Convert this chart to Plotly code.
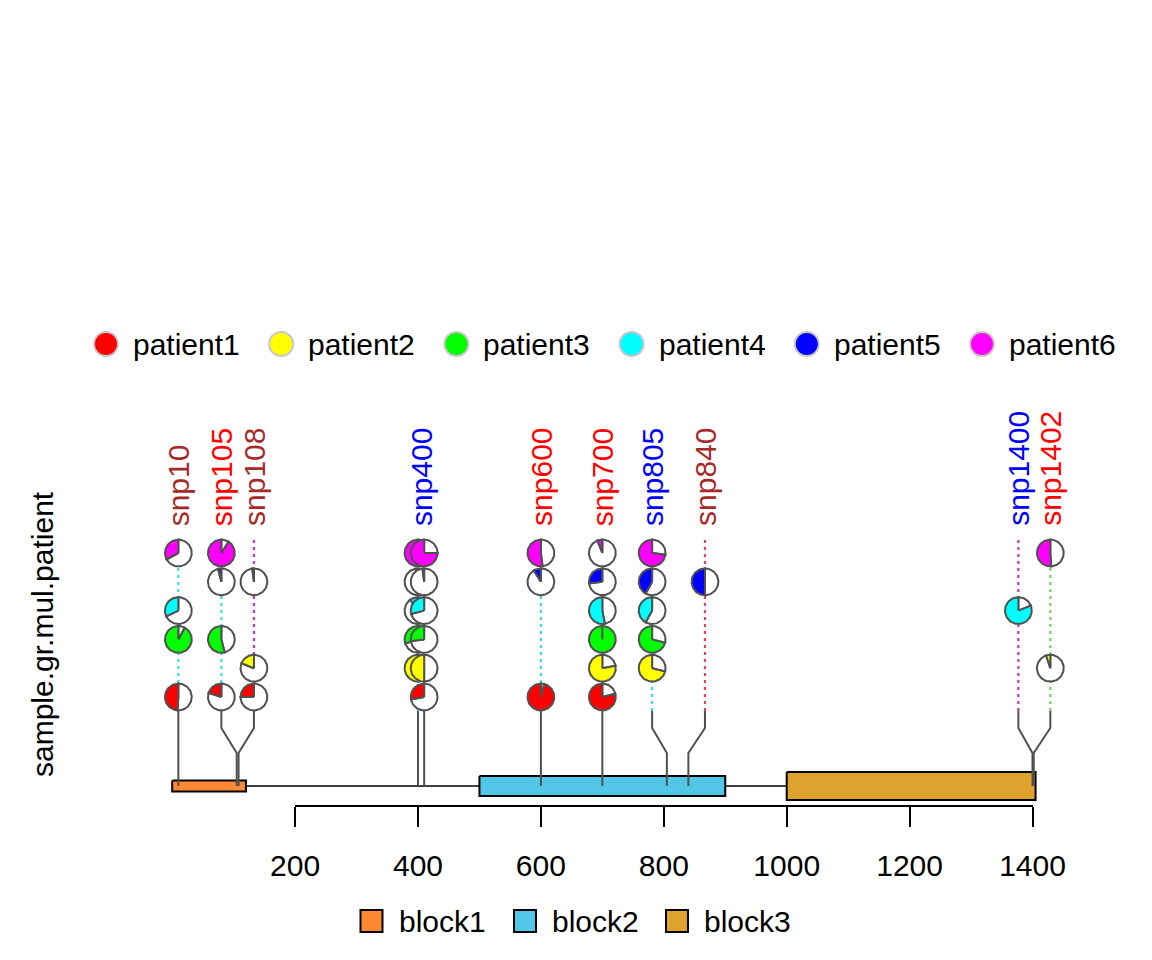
import math
import plotly.graph_objects as go

# ---------------- data ----------------
patients = ["patient1", "patient2", "patient3", "patient4", "patient5", "patient6"]
patient_colors = ["#FF0000", "#FFFF00", "#00FF00", "#00FFFF", "#0000FF", "#FF00FF"]

snp_names = ["snp10", "snp105", "snp108", "snp400", "snp400", "snp600",
             "snp700", "snp805", "snp840", "snp1400", "snp1402"]
snp_pos = [10, 105, 108, 400, 410, 600, 700, 805, 840, 1400, 1402]
# positions where trackViewer re-drew the lollipops after avoiding overlaps
snp_shown = [10, 80, 133, 400, 410, 600, 700, 781, 867, 1377, 1429]
snp_label_shown = [True, True, True, True, False, True, True, True, True, True, True]
snp_label_colors = ["#A52A2A", "#FF0000", "#A52A2A", "#0000FF", "#0000FF", "#FF0000",
                    "#FF0000", "#0000FF", "#A52A2A", "#0000FF", "#FF0000"]
snp_line_colors = ["#33DDEE", "#33DDEE", "#CC33CC", "#33DDEE", "#33DDEE", "#33DDEE",
                   "#E04455", "#33DDEE", "#E04455", "#CC33CC", "#66DD55"]

# pie scores for each patient at each snp (0 = no pie)
score_patient1 = [0.49, 0.20, 0.25, 0.00, 0.28, 0.96, 0.79, 0.00, 0.00, 0.00, 0.00]
score_patient2 = [0.00, 0.00, 0.19, 0.55, 0.50, 0.00, 0.78, 0.71, 0.00, 0.00, 0.05]
score_patient3 = [0.92, 0.54, 0.00, 0.30, 0.27, 0.00, 1.00, 0.71, 0.00, 0.00, 0.00]
score_patient4 = [0.32, 0.00, 0.00, 0.10, 0.29, 0.00, 0.53, 0.42, 0.00, 0.81, 0.00]
score_patient5 = [0.00, 0.04, 0.02, 0.03, 0.02, 0.09, 0.27, 0.42, 0.50, 0.00, 0.00]
score_patient6 = [0.33, 0.91, 0.00, 0.80, 0.75, 0.52, 0.06, 0.73, 0.00, 0.00, 0.51]
scores = [score_patient1, score_patient2, score_patient3,
          score_patient4, score_patient5, score_patient6]

block_names = ["block1", "block2", "block3"]
block_start = [1, 501, 1001]
block_end = [120, 900, 1405]
block_fill = ["#FF8833", "#51C6E6", "#DFA32D"]
block_height = [0.02, 0.036, 0.05]

tick_vals = [200, 400, 600, 800, 1000, 1200, 1400]

# ---------------- layout constants (pixels) ----------------
W, H = 1152, 960
PX0 = 172.2          # pixel of coordinate 0
K = 0.6145           # pixels per base
FONT = "Liberation Sans, Arial, Helvetica, sans-serif"
FS = 30
GREY = "#505050"

GENE_Y = 786
LEVEL1_Y = 697
LEVEL_STEP = 28.8
R = 13.4
STEM_TOP = LEVEL1_Y + 14
BRANCH_LOW = 753
BRANCH_HIGH = 728
DOT_TOP = LEVEL1_Y - 5 * LEVEL_STEP - 14
LABEL_BOTTOM = 528
HEIGHT_SCALE = 560


def px2x(px):
    return (px - PX0) / K


fig = go.Figure()


def add_line(xs, ys, color, width, dash=None):
    fig.add_trace(go.Scatter(x=xs, y=ys, mode="lines",
                             line=dict(color=color, width=width, dash=dash),
                             hoverinfo="skip", showlegend=False))


def add_poly(xs, ys, fill, line_color, width):
    fig.add_trace(go.Scatter(x=xs, y=ys, mode="lines", fill="toself", fillcolor=fill,
                             line=dict(color=line_color, width=width),
                             hoverinfo="skip", showlegend=False))


def wedge(cx, cy, a0, a1):
    n = max(2, int(abs(a1 - a0) / 4) + 2)
    xs, ys = [cx], [cy]
    for i in range(n + 1):
        a = math.radians(a0 + (a1 - a0) * i / n)
        xs.append(cx + R * math.cos(a) / K)
        ys.append(cy - R * math.sin(a))
    xs.append(cx)
    ys.append(cy)
    return xs, ys


# dotted guide lines (behind everything)
for i, pos in enumerate(snp_shown):
    add_line([pos, pos], [STEM_TOP, DOT_TOP], snp_line_colors[i], 2.2, "3px,4px")

# gene backbone and blocks
add_line([block_start[0], block_end[-1]], [GENE_Y, GENE_Y], "black", 1.6)
for i in range(len(block_names)):
    h = block_height[i] * HEIGHT_SCALE / 2
    x0, x1 = block_start[i] - 1, block_end[i]
    add_poly([x0, x1, x1, x0, x0], [GENE_Y - h, GENE_Y - h, GENE_Y + h, GENE_Y + h, GENE_Y - h],
             block_fill[i], "black", 2)

# stems
for i, pos in enumerate(snp_pos):
    shown = snp_shown[i]
    if abs(shown - pos) < 1e-9:
        add_line([pos, pos], [GENE_Y, STEM_TOP], GREY, 2)
    else:
        add_line([pos, pos, shown, shown], [GENE_Y, BRANCH_LOW, BRANCH_HIGH, STEM_TOP], GREY, 2)

# pies
for i, pos in enumerate(snp_shown):
    for k in range(len(patients)):
        v = scores[k][i]
        if v <= 0:
            continue
        cy = LEVEL1_Y - k * LEVEL_STEP
        a_end = 90 + 360 * v
        if v < 1:
            xs, ys = wedge(pos, cy, a_end, 450)
            add_poly(xs, ys, "white", GREY, 2)
        xs, ys = wedge(pos, cy, 90, a_end)
        add_poly(xs, ys, patient_colors[k], GREY, 2)

annotations = []
# snp labels
for i, name in enumerate(snp_names):
    if not snp_label_shown[i]:
        continue
    xs = [snp_shown[j] for j in range(len(snp_names)) if snp_names[j] == name]
    xc = sum(xs) / len(xs)
    annotations.append(dict(x=xc, y=LABEL_BOTTOM, xref="x", yref="y", text=name,
                            textangle=-90, showarrow=False, xanchor="center", yanchor="bottom",
                            font=dict(family=FONT, size=FS, color=snp_label_colors[i])))

# patient legend (top)
LEG_Y = 344
for k, p in enumerate(patients):
    cxp = 106 + k * 175.2
    fig.add_trace(go.Scatter(x=[px2x(cxp)], y=[LEG_Y], mode="markers",
                             marker=dict(size=24, color=patient_colors[k],
                                         line=dict(color="#C8C8C8", width=2)),
                             hoverinfo="skip", showlegend=False))
    annotations.append(dict(x=(cxp + 25) / W, y=1 - LEG_Y / H, xref="paper", yref="paper",
                            text=p, showarrow=False, xanchor="left", yanchor="middle",
                            font=dict(family=FONT, size=FS, color="black")))

# block legend (bottom)
BL_Y = 921
bl_centers = [371.5, 525, 677]
for i, b in enumerate(block_names):
    cxp = bl_centers[i]
    fig.add_trace(go.Scatter(x=[px2x(cxp)], y=[BL_Y], mode="markers",
                             marker=dict(size=22, symbol="square", color=block_fill[i],
                                         line=dict(color="black", width=2)),
                             hoverinfo="skip", showlegend=False))
    annotations.append(dict(x=(cxp + 25) / W, y=1 - BL_Y / H, xref="paper", yref="paper",
                            text=b, showarrow=False, xanchor="left", yanchor="middle",
                            font=dict(family=FONT, size=FS, color="black")))

# y axis title
annotations.append(dict(x=42 / W, y=1 - 634 / H, xref="paper", yref="paper",
                        text="sample.gr.mul.patient", textangle=-90, showarrow=False,
                        xanchor="center", yanchor="middle",
                        font=dict(family=FONT, size=FS, color="black")))

# dummy trace to activate the visible coordinate axis
fig.add_trace(go.Scatter(x=[tick_vals[0], tick_vals[-1]], y=[-100, -100], xaxis="x2", yaxis="y",
                         mode="markers", marker=dict(size=1, opacity=0),
                         hoverinfo="skip", showlegend=False))

AXIS_Y = 806
fig.update_layout(
    width=W, height=H,
    autosize=False,
    margin=dict(l=0, r=0, t=0, b=0, pad=0, autoexpand=False),
    paper_bgcolor="white", plot_bgcolor="rgba(0,0,0,0)",
    showlegend=False,
    xaxis=dict(range=[px2x(0), px2x(W)], visible=False, domain=[0, 1], automargin=False),
    yaxis=dict(range=[H, 0], visible=False, domain=[0, 1], automargin=False),
    xaxis2=dict(range=[tick_vals[0], tick_vals[-1]],
                domain=[(PX0 + K * tick_vals[0]) / W, (PX0 + K * tick_vals[-1]) / W],
                anchor="free", position=1 - AXIS_Y / H, side="bottom",
                automargin=False,
                showline=True, linecolor="black", linewidth=2,
                ticks="outside", ticklen=20, tickwidth=2, tickcolor="black",
                tickvals=tick_vals, ticktext=[str(t) for t in tick_vals],
                ticklabelstandoff=13,
                tickfont=dict(family=FONT, size=FS, color="black"),
                showgrid=False, zeroline=False),
    annotations=annotations,
)

fig.write_html("out.html", config={"displayModeBar": False},
               post_script="document.body.style.margin='0px';")
